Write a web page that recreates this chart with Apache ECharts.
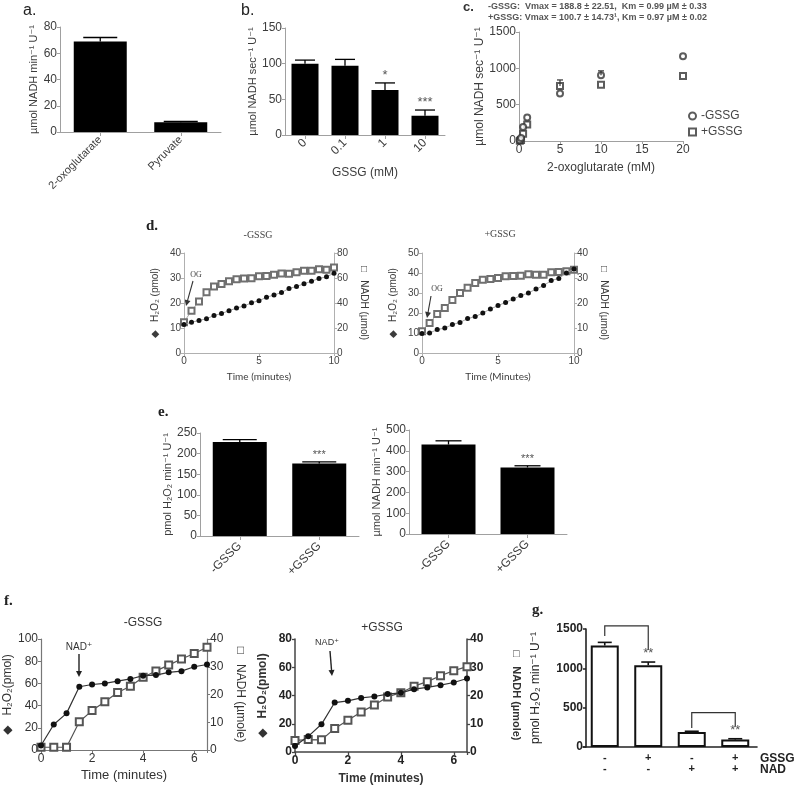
<!DOCTYPE html>
<html><head><meta charset="utf-8">
<script src="https://cdn.jsdelivr.net/npm/echarts@6/dist/echarts.min.js"></script>
<style>html,body{margin:0;padding:0;background:#fff}#c{width:796px;height:789px}</style>
</head><body><div id="c"></div><script>
// ---------------- data ----------------
// a.
const aCats = ['2-oxoglutarate', 'Pyruvate'];
const aVals = [69, 7.5];
const aErr = [72, 8];
// b.
const bCats = ['0', '0.1', '1', '10'];
const bVals = [100, 97, 63, 27];
const bErr = [105, 106, 73, 35];
const bStars = ['', '', '*', '***'];
// c.
const cMinusX = [0.1, 0.25, 0.5, 1, 5, 10, 20];
const cMinusY = [10, 40, 194, 323, 655, 905, 1168];
const cPlusX = [0.1, 0.25, 0.5, 1, 5, 10, 20];
const cPlusY = [5, 15, 100, 226, 757, 775, 895];
const cErrX = [5, 10];
const cErrBase = [757, 905];
const cErrTop = [840, 965];
// d.
const dTime = [0, 0.5, 1, 1.5, 2, 2.5, 3, 3.5, 4, 4.5, 5, 5.5, 6, 6.5, 7, 7.5, 8, 8.5, 9, 9.5, 10];
const dMinusH2O2 = [11.4, 12.3, 13, 13.7, 15, 15.8, 16.9, 18, 18.8, 20.1, 20.9, 22.3, 23.2, 24.2, 25.8, 26.6, 27.7, 28.7, 29.8, 30.5, 31.9];
const dMinusNADH = [24.7, 33.8, 41.3, 48.6, 53.2, 55.3, 57.4, 59, 59.6, 59.9, 61.5, 61.7, 62.6, 63.6, 63.4, 64.7, 65.8, 65.8, 67, 66.6, 68.5];
const dPlusH2O2 = [9.7, 10, 11.7, 12.5, 14.2, 15.3, 17.2, 18.2, 20, 22, 23.7, 25.3, 27, 28.7, 30, 32, 33.7, 36.2, 37.3, 40, 42];
const dPlusNADH = [8.7, 12, 15.6, 18, 21.2, 24, 26.1, 28, 29.3, 29.6, 30, 30.7, 30.8, 30.9, 31.5, 31.3, 31.3, 32.3, 32.4, 32.7, 33.3];
// e.
const eCats = ['-GSSG', '+GSSG'];
const eH2O2 = [228, 176];
const eH2O2Err = [234, 180];
const eH2O2Stars = ['', '***'];
const eNADH = [430, 320];
const eNADHErr = [448, 328];
const eNADHStars = ['', '***'];
// f.
const fTime = [0, 0.5, 1, 1.5, 2, 2.5, 3, 3.5, 4, 4.5, 5, 5.5, 6, 6.5];
const fMinusH2O2 = [4, 23, 33, 57, 59, 60, 62, 64, 67, 67.5, 70, 71, 75, 77];
const fMinusNADH = [1, 1, 1, 10.2, 14.2, 17.4, 20.7, 23, 26.2, 28.5, 30.6, 32.8, 34.8, 37];
const fPlusH2O2 = [4.3, 11.1, 19.6, 35, 36.2, 38.3, 39.3, 41, 41.9, 44.5, 45.7, 47.3, 49.2, 52];
const fPlusNADH = [4.1, 4.4, 4.3, 8.3, 11.2, 14.2, 16.6, 19.5, 21, 23.3, 24.9, 27, 28.8, 30.2];
// g.
const gGSSG = ['-', '+', '-', '+'];
const gNAD = ['-', '-', '+', '+'];
const gVals = [1290, 1040, 190, 95];
const gErr = [1330, 1080, 200, 105];
// bracket: [fromCat, toCat, leftLegStart, top, rightLegEnd, stars]
const gBrackets = [[0, 1, 1410, 1540, 1232, '**'], [2, 3, 240, 436, 258, '**']];

// ---------------- helpers ----------------
const FONT = '"Liberation Sans", Arial, "DejaVu Sans", sans-serif';
const SERIF = '"Liberation Serif", "DejaVu Serif", serif';
const HUM = 'Lato, "Open Sans", sans-serif';
function isObj(v){return v && typeof v === 'object' && !Array.isArray(v);}
function merge(a, b){const o = Object.assign({}, a); for (const k in b){ o[k] = (isObj(a[k]) && isObj(b[k])) ? merge(a[k], b[k]) : b[k]; } return o;}
function ax(o){
  return merge({
    axisLine:{show:true, onZero:false, lineStyle:{color:'#a0a0a0', width:1}},
    axisTick:{show:true, length:3, lineStyle:{color:'#a0a0a0'}},
    splitLine:{show:false},
    axisLabel:{color:'#3c3c3c', fontSize:12, fontFamily:FONT, margin:3, formatter:v => String(v)},
    nameLocation:'middle',
    nameTextStyle:{color:'#3c3c3c', fontSize:11, fontFamily:FONT}
  }, o);
}
function errBars(xi, yi, data, capW, opt){
  opt = opt || {};
  return {
    type:'custom', xAxisIndex:xi, yAxisIndex:yi, z:5, silent:true,
    data: data,
    renderItem(params, api){
      const x = api.value(0);
      const b = api.coord([x, api.value(1)]);
      const t = api.coord([x, api.value(2)]);
      const col = opt.color || '#000', lw = opt.lw || 1.3;
      const ch = [
        {type:'line', shape:{x1:b[0], y1:b[1], x2:t[0], y2:t[1]}, style:{stroke:col, lineWidth:lw}},
        {type:'line', shape:{x1:t[0]-capW/2, y1:t[1], x2:t[0]+capW/2, y2:t[1]}, style:{stroke:col, lineWidth:lw}}
      ];
      const s = opt.stars ? opt.stars[params.dataIndex] : '';
      if (s) ch.push({type:'text', style:{text:s, x:t[0], y:t[1]-1, align:'center', verticalAlign:'bottom', fill:'#555', font:(opt.starSize||12)+'px '+FONT}});
      return {type:'group', children:ch};
    }
  };
}
function arrow(x1, y1, x2, y2, col, lw){
  const ang = Math.atan2(y2-y1, x2-x1), L = 6, W = 3;
  const p = [[x2, y2],
    [x2 - L*Math.cos(ang) + W*Math.sin(ang), y2 - L*Math.sin(ang) - W*Math.cos(ang)],
    [x2 - L*Math.cos(ang) - W*Math.sin(ang), y2 - L*Math.sin(ang) + W*Math.cos(ang)]];
  return {type:'group', children:[
    {type:'line', shape:{x1, y1, x2:x2-L*0.8*Math.cos(ang), y2:y2-L*0.8*Math.sin(ang)}, style:{stroke:col, lineWidth:lw||1.2}},
    {type:'polygon', shape:{points:p}, style:{fill:col}}
  ]};
}
function txt(x, y, s, font, col, align){
  return {type:'text', x, y, style:{text:s, font, fill:col||'#222', align:align||'left', verticalAlign:'middle'}};
}
const pairs = (xs, ys) => xs.map((x, i) => [x, ys[i]]);

// ---------------- layout ----------------
const grid = [
  {left:60, top:27, width:161, height:105},   // 0 a
  {left:285, top:28, width:160, height:107},  // 1 b
  {left:519, top:32, width:164, height:109},  // 2 c
  {left:184, top:253, width:150, height:100}, // 3 dL
  {left:422, top:253, width:152, height:100}, // 4 dR
  {left:200, top:433, width:159, height:103}, // 5 eL
  {left:409, top:430, width:158, height:104}, // 6 eR
  {left:41, top:639, width:166, height:111},  // 7 fL
  {left:295, top:639, width:172, height:113}, // 8 fR
  {left:583, top:629, width:174, height:118}  // 9 g
];

const dAxFont = {axisLabel:{fontSize:10, color:'#444'}, axisLine:{lineStyle:{color:'#b0b0b0'}}, axisTick:{lineStyle:{color:'#b0b0b0'}}};
const fAx = {axisLine:{lineStyle:{color:'#777', width:1.2}}, axisTick:{lineStyle:{color:'#777'}}, axisLabel:{color:'#333'}};
const fbAx = {axisLine:{lineStyle:{color:'#444', width:1.5}}, axisTick:{lineStyle:{color:'#444', width:1.3}}, axisLabel:{color:'#222', fontWeight:'bold'}};
const gAx = {axisLine:{lineStyle:{color:'#222', width:1.6}}, axisTick:{lineStyle:{color:'#222', width:1.5}}, axisLabel:{color:'#222', fontWeight:'bold'}};
const evenOnly = v => (v % 2 === 0 ? String(v) : '');

const xAxis = [
  ax({gridIndex:0, type:'category', data:aCats, axisTick:{alignWithLabel:true, length:4}, axisLabel:{rotate:45, margin:6, fontSize:11}}),
  ax({gridIndex:1, type:'category', data:bCats, axisTick:{alignWithLabel:true, length:4}, axisLabel:{rotate:45, margin:6, fontSize:12},
      name:'GSSG (mM)', nameGap:32, nameTextStyle:{fontSize:12}}),
  ax({gridIndex:2, type:'value', min:0, max:20, interval:5, axisLabel:{fontSize:12}, name:'2-oxoglutarate (mM)', nameGap:21, nameTextStyle:{fontSize:12}}),
  ax(merge(dAxFont, {gridIndex:3, type:'value', min:0, max:10, interval:5, name:'Time (minutes)', nameGap:19, nameTextStyle:{fontSize:10, fontFamily:HUM}})),
  ax(merge(dAxFont, {gridIndex:4, type:'value', min:0, max:10, interval:5, name:'Time (Minutes)', nameGap:19, nameTextStyle:{fontSize:10, fontFamily:HUM}})),
  ax({gridIndex:5, type:'category', data:eCats, axisTick:{alignWithLabel:true, length:4}, axisLabel:{rotate:45, margin:8}}),
  ax({gridIndex:6, type:'category', data:eCats, axisTick:{alignWithLabel:true, length:4}, axisLabel:{rotate:45, margin:8}}),
  ax(merge(fAx, {gridIndex:7, type:'value', min:0, max:6.5, interval:2, axisLabel:{formatter:evenOnly},
      name:'Time (minutes)', nameGap:19, nameTextStyle:{fontSize:13, color:'#333'}})),
  ax(merge(fbAx, {gridIndex:8, type:'value', min:0, max:6.5, interval:2, axisLabel:{formatter:evenOnly},
      name:'Time (minutes)', nameGap:21, nameTextStyle:{fontSize:12, fontWeight:'bold', color:'#333'}})),
  ax(merge(gAx, {gridIndex:9, type:'category', data:gGSSG.map((s, i) => s + '\n' + gNAD[i]), axisTick:{show:false},
      axisLabel:{margin:6, fontSize:11, lineHeight:10.5}}))
];

const yAxis = [
  ax({gridIndex:0, type:'value', min:0, max:80, interval:20, name:'µmol NADH min⁻¹ U⁻¹', nameGap:21}),
  ax({gridIndex:1, type:'value', min:0, max:150, interval:50, name:'µmol NADH sec⁻¹ U⁻¹', nameGap:26}),
  ax({gridIndex:2, type:'value', min:0, max:1500, interval:500, name:'µmol NADH sec⁻¹ U⁻¹', nameGap:31, nameTextStyle:{fontSize:12}}),
  ax(merge(dAxFont, {gridIndex:3, type:'value', min:0, max:40, interval:10, name:'◆   H₂O₂ (pmol)', nameGap:24, nameTextStyle:{fontSize:10}})),
  ax(merge(dAxFont, {gridIndex:3, type:'value', position:'right', min:0, max:80, interval:20, name:'□   NADH (µmol)', nameRotate:-90, nameGap:25, nameTextStyle:{fontSize:10}})),
  ax(merge(dAxFont, {gridIndex:4, type:'value', min:0, max:50, interval:10, name:'◆   H₂O₂ (pmol)', nameGap:24, nameTextStyle:{fontSize:10}})),
  ax(merge(dAxFont, {gridIndex:4, type:'value', position:'right', min:0, max:40, interval:10, name:'□   NADH (µmol)', nameRotate:-90, nameGap:25, nameTextStyle:{fontSize:10}})),
  ax({gridIndex:5, type:'value', min:0, max:250, interval:50, name:'pmol H₂O₂ min⁻¹ U⁻¹', nameGap:22}),
  ax({gridIndex:6, type:'value', min:0, max:500, interval:100, name:'µmol NADH min⁻¹ U⁻¹', nameGap:23}),
  ax(merge(fAx, {gridIndex:7, type:'value', min:0, max:100, interval:20, name:'◆   H₂O₂(pmol)', nameGap:22, nameTextStyle:{fontSize:12, color:'#333'}})),
  ax(merge(fAx, {gridIndex:7, type:'value', position:'right', min:0, max:40, interval:10, name:'□   NADH (µmole)', nameRotate:-90, nameGap:27, nameTextStyle:{fontSize:12, color:'#333'}})),
  ax(merge(fbAx, {gridIndex:8, type:'value', min:0, max:80, interval:20, name:'◆   H₂O₂(pmol)', nameGap:26, nameTextStyle:{fontSize:12, fontWeight:'bold', color:'#333'}})),
  ax(merge(fbAx, {gridIndex:8, type:'value', position:'right', min:0, max:40, interval:10, name:'□   NADH (µmole)', nameRotate:-90, nameGap:44, nameTextStyle:{fontSize:11, fontWeight:'bold', color:'#333'}})),
  ax(merge(gAx, {gridIndex:9, type:'value', offset:-3, min:0, max:1500, interval:500, name:'pmol H₂O₂ min⁻¹ U⁻¹', nameGap:44, nameTextStyle:{fontSize:12, color:'#222'}}))
];

const sqStyle = (c, bw) => ({color:c, borderColor:c, borderWidth:bw});
const series = [
  // a
  {type:'bar', xAxisIndex:0, yAxisIndex:0, data:aVals, barWidth:53, itemStyle:{color:'#000'}},
  errBars(0, 0, aVals.map((v, i) => [i, v, aErr[i]]), 34),
  // b
  {type:'bar', xAxisIndex:1, yAxisIndex:1, data:bVals, barWidth:27, itemStyle:{color:'#000'}},
  errBars(1, 1, bVals.map((v, i) => [i, v, bErr[i]]), 20, {stars:bStars, starSize:13}),
  // c
  {name:'-GSSG', type:'scatter', xAxisIndex:2, yAxisIndex:2, data:pairs(cMinusX, cMinusY), symbol:'emptyCircle', symbolSize:6, itemStyle:sqStyle('#333', 1.2), z:4},
  {name:'+GSSG', type:'scatter', xAxisIndex:2, yAxisIndex:2, data:pairs(cPlusX, cPlusY), symbol:'emptyRect', symbolSize:6, itemStyle:sqStyle('#333', 1.2), z:3},
  errBars(2, 2, cErrX.map((x, i) => [x, cErrBase[i], cErrTop[i]]), 6, {color:'#333', lw:1.2}),
  // d left
  {type:'line', xAxisIndex:3, yAxisIndex:4, data:pairs(dTime, dMinusNADH), symbol:'emptyRect', symbolSize:6, lineStyle:{color:'#a8a8a8', width:1}, itemStyle:sqStyle('#707070', 1.2), z:2},
  {type:'line', xAxisIndex:3, yAxisIndex:3, data:pairs(dTime, dMinusH2O2), symbol:'circle', symbolSize:5, lineStyle:{color:'#a8a8a8', width:1}, itemStyle:{color:'#111'}, z:3},
  // d right
  {type:'line', xAxisIndex:4, yAxisIndex:6, data:pairs(dTime, dPlusNADH), symbol:'emptyRect', symbolSize:6, lineStyle:{color:'#a8a8a8', width:1}, itemStyle:sqStyle('#707070', 1.2), z:2},
  {type:'line', xAxisIndex:4, yAxisIndex:5, data:pairs(dTime, dPlusH2O2), symbol:'circle', symbolSize:5, lineStyle:{color:'#a8a8a8', width:1}, itemStyle:{color:'#111'}, z:3},
  // e
  {type:'bar', xAxisIndex:5, yAxisIndex:7, data:eH2O2, barWidth:54, itemStyle:{color:'#000'}},
  errBars(5, 7, eH2O2.map((v, i) => [i, v, eH2O2Err[i]]), 34, {stars:eH2O2Stars, starSize:11}),
  {type:'bar', xAxisIndex:6, yAxisIndex:8, data:eNADH, barWidth:54, itemStyle:{color:'#000'}},
  errBars(6, 8, eNADH.map((v, i) => [i, v, eNADHErr[i]]), 26, {stars:eNADHStars, starSize:11}),
  // f left
  {type:'line', xAxisIndex:7, yAxisIndex:10, data:pairs(fTime, fMinusNADH), symbol:'emptyRect', symbolSize:7, lineStyle:{color:'#555', width:1.2}, itemStyle:sqStyle('#555', 1.3), z:2},
  {type:'line', xAxisIndex:7, yAxisIndex:9, data:pairs(fTime, fMinusH2O2), symbol:'circle', symbolSize:6, lineStyle:{color:'#333', width:1.2}, itemStyle:{color:'#111'}, z:3},
  // f right
  {type:'line', xAxisIndex:8, yAxisIndex:12, data:pairs(fTime, fPlusNADH), symbol:'emptyRect', symbolSize:7, lineStyle:{color:'#555', width:1.2}, itemStyle:sqStyle('#555', 1.3), z:2},
  {type:'line', xAxisIndex:8, yAxisIndex:11, data:pairs(fTime, fPlusH2O2), symbol:'circle', symbolSize:6, lineStyle:{color:'#333', width:1.2}, itemStyle:{color:'#111'}, z:3},
  // g
  {type:'bar', xAxisIndex:9, yAxisIndex:13, data:gVals, barWidth:28, itemStyle:{color:'#fff', borderColor:'#111', borderWidth:2}},
  errBars(9, 13, gVals.map((v, i) => [i, v, gErr[i]]), 14, {color:'#111', lw:1.6}),
  {
    type:'custom', xAxisIndex:9, yAxisIndex:13, silent:true, z:6,
    data: gBrackets,
    renderItem(params, api){
      const a = api.coord([api.value(0), api.value(2)]);
      const t1 = api.coord([api.value(0), api.value(3)]);
      const t2 = api.coord([api.value(1), api.value(3)]);
      const b = api.coord([api.value(1), api.value(4)]);
      const s = gBrackets[params.dataIndex][5];
      return {type:'group', children:[
        {type:'polyline', shape:{points:[a, t1, t2, b]}, style:{stroke:'#333', lineWidth:1.2, fill:null}},
        {type:'text', style:{text:s, x:b[0], y:b[1]-3, align:'center', verticalAlign:'top', fill:'#555', font:'13px '+FONT}}
      ]};
    }
  }
];

const graphic = [
  txt(23, 11, 'a.', '16px '+FONT, '#222'),
  txt(241, 11, 'b.', '16px '+FONT, '#222'),
  txt(463, 7, 'c.', 'bold 13px '+FONT, '#333'),
  txt(488, 7, '-GSSG:  Vmax = 188.8 ± 22.51,  Km = 0.99 µM ± 0.33', 'bold 9px "Liberation Sans Narrow", '+FONT, '#555'),
  txt(488, 18, '+GSSG: Vmax = 100.7 ± 14.73¹, Km = 0.97 µM ± 0.02', 'bold 9px "Liberation Sans Narrow", '+FONT, '#555'),
  txt(146, 226, 'd.', 'bold 15px '+SERIF, '#222'),
  txt(258, 235, '-GSSG', '10px '+SERIF, '#444', 'center'),
  txt(500, 234, '+GSSG', '10px '+SERIF, '#444', 'center'),
  txt(196, 275, 'OG', '8px '+SERIF, '#444', 'center'),
  arrow(193, 281, 186, 306, '#333', 1.1),
  txt(437, 289, 'OG', '8px '+SERIF, '#444', 'center'),
  arrow(431, 296, 427, 318, '#333', 1.1),
  txt(158, 412, 'e.', 'bold 15px '+SERIF, '#222'),
  txt(4, 601, 'f.', 'bold 15px '+SERIF, '#222'),
  txt(143, 623, '-GSSG', '12px '+FONT, '#333', 'center'),
  txt(382, 628, '+GSSG', '12px '+FONT, '#333', 'center'),
  txt(79, 647, 'NAD⁺', '10px '+FONT, '#333', 'center'),
  arrow(79, 654, 79, 677, '#222', 1.4),
  txt(327, 643, 'NAD⁺', '9px '+FONT, '#333', 'center'),
  arrow(330, 651, 332, 676, '#222', 1.4),
  txt(532, 610, 'g.', 'bold 15px '+SERIF, '#222'),
  txt(760, 759, 'GSSG', 'bold 12px '+FONT, '#222'),
  txt(760, 769.5, 'NAD', 'bold 12px '+FONT, '#222')
];

const chart = echarts.init(document.getElementById('c'), null, {renderer:'canvas'});
chart.setOption({
  animation:false,
  backgroundColor:'#fff',
  textStyle:{fontFamily:FONT},
  grid, xAxis, yAxis, series, graphic,
  legend:{data:['-GSSG', '+GSSG'], orient:'vertical', left:683, top:105, itemWidth:7, itemHeight:7, itemGap:4, selectedMode:false,
    itemStyle:{borderWidth:1.2}, textStyle:{fontSize:12, color:'#444', fontFamily:FONT}}
});
</script></body></html>
